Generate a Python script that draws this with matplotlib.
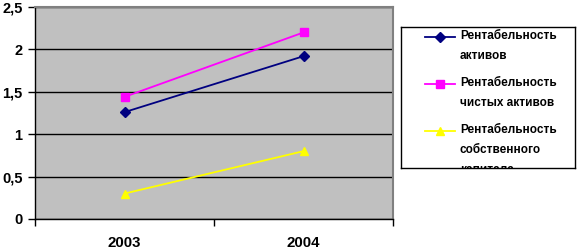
import matplotlib
matplotlib.use("Agg")
import matplotlib.pyplot as plt
from matplotlib.ticker import FixedLocator, FuncFormatter

years = ["2003", "2004"]
assets = [1.26, 1.92]
net_assets = [1.44, 2.20]
equity = [0.30, 0.80]
labels = ["Рентабельность\nактивов", "Рентабельность\nчистых активов",
          "Рентабельность\nсобственного\nкапитала"]
colors = ["#000080", "#FF00FF", "#FFFF00"]
markers = ["D", "s", "^"]
series = [assets, net_assets, equity]

W, H = 577, 249
fig = plt.figure(figsize=(W / 100, H / 100), dpi=100)
plt.rcParams['font.family'] = ['Liberation Sans', 'DejaVu Sans']

def fx(px):
    return px / W

def fy(py):
    return 1 - py / H

ax = fig.add_axes([fx(35), fy(219), fx(393) - fx(35), fy(7) - fy(219)])
ax.set_facecolor("#C0C0C0")
x = list(range(len(years)))
for vals, c, m in zip(series, colors, markers):
    ax.plot(x, vals, color=c, marker=m, lw=1.3, ms=5.5 if m != "D" else 5,
            markeredgecolor=c, zorder=3)
ax.set_xlim(-0.5, len(years) - 0.5)
ax.set_ylim(0, 2.5)
ax.yaxis.set_major_locator(FixedLocator([0, 0.5, 1, 1.5, 2, 2.5]))
ax.yaxis.set_major_formatter(FuncFormatter(lambda v, p: ("%g" % v).replace(".", ",")))
ax.grid(axis="y", color="black", lw=1)
ax.set_axisbelow(True)
ax.set_xticks([-0.5, 0.5, 1.5])
ax.set_xticklabels([])
ax.set_xticks(x, minor=True)
ax.set_xticklabels(years, minor=True, fontsize=10.8, fontweight="bold")
ax.tick_params(axis="x", which="minor", length=0, pad=12)
ax.tick_params(axis="x", which="major", length=5, width=1, color="black")
ax.tick_params(axis="y", length=5, width=1, labelsize=10.5, pad=4)
for lab in ax.get_yticklabels():
    lab.set_fontweight("bold")
for s in ["left", "bottom"]:
    ax.spines[s].set_color("black")
    ax.spines[s].set_linewidth(1)
for s in ["top", "right"]:
    ax.spines[s].set_color("#808080")
    ax.spines[s].set_linewidth(1.5)

# legend box
lx0, ly0, lx1, ly1 = 401, 27, 575, 168
lax = fig.add_axes([fx(lx0), fy(ly1), fx(lx1) - fx(lx0), fy(ly0) - fy(ly1)])
lax.set_xlim(lx0, lx1)
lax.set_ylim(ly1, ly0)
lax.set_xticks([])
lax.set_yticks([])
for s in lax.spines.values():
    s.set_color("black")
    s.set_linewidth(1)
entry_y = [37, 84, 131]
for yy, lab, c, m in zip(entry_y, labels, colors, markers):
    lax.plot([425, 455], [yy, yy], color=c, lw=1.3)
    lax.plot([440], [yy], color=c, marker=m, ms=5.5 if m != "D" else 5,
             markeredgecolor=c)
    lax.text(460, yy - 7, lab, fontsize=8.5, fontweight="bold", va="top",
             ha="left", linespacing=1.87, clip_on=True)

fig.savefig("out.png", dpi=100)
